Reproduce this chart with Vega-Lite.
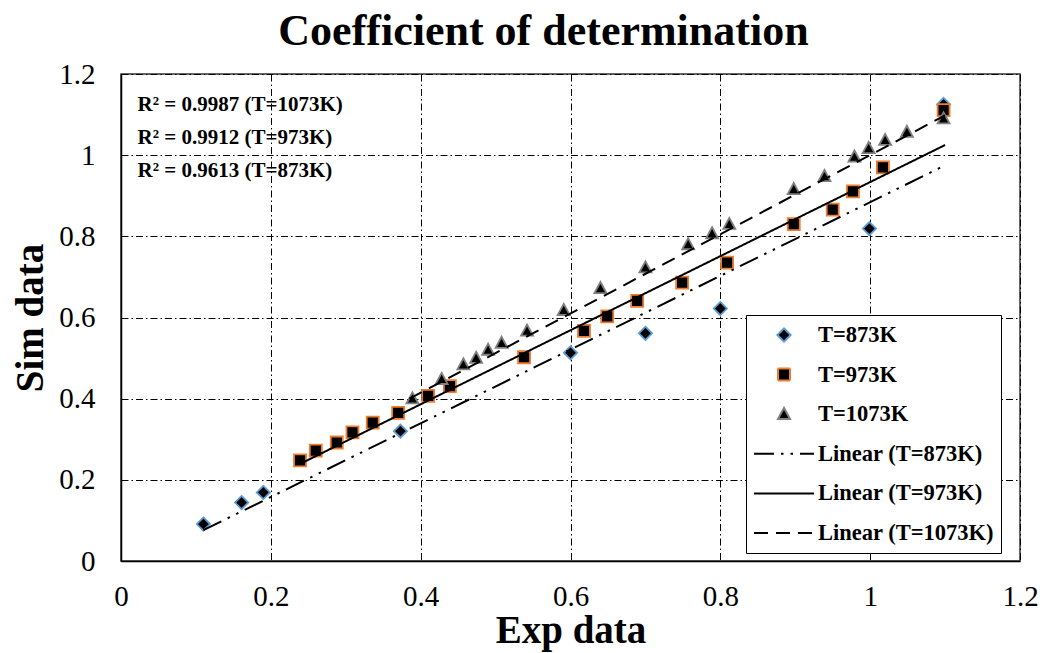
{
  "$schema": "https://vega.github.io/schema/vega-lite/v6.json",
  "width": 899,
  "height": 487,
  "autosize": "none",
  "padding": {"left": 121, "top": 74, "right": 26, "bottom": 92},
  "background": "white",
  "config": {
    "font": "Liberation Serif",
    "view": {"stroke": "#333333", "strokeWidth": 1.5},
    "legend": {
      "title": null,
      "orient": "none",
      "legendX": 625,
      "legendY": 241,
      "padding": 7,
      "strokeColor": "black",
      "fillColor": "white",
      "symbolSize": 3600,
      "symbolStrokeWidth": 2,
      "symbolFillColor": "black",
      "symbolOpacity": 1,
      "clipHeight": 26,
      "rowPadding": 13.6,
      "labelOffset": 3,
      "labelFont": "Liberation Serif",
      "labelFontSize": 22.5,
      "labelFontWeight": "bold",
      "labelColor": "black",
      "labelLimit": 300
    }
  },
  "title": {
    "text": "Coefficient of determination",
    "font": "Liberation Serif",
    "fontSize": 44,
    "fontWeight": "bold",
    "color": "black",
    "anchor": "middle",
    "frame": "group",
    "dx": -27,
    "offset": -29,
    "baseline": "alphabetic"
  },
  "datasets": {
    "points": [
      {"series": "T=873K", "x": 0.110, "y": 0.091},
      {"series": "T=873K", "x": 0.161, "y": 0.144},
      {"series": "T=873K", "x": 0.190, "y": 0.169},
      {"series": "T=873K", "x": 0.373, "y": 0.320},
      {"series": "T=873K", "x": 0.600, "y": 0.513},
      {"series": "T=873K", "x": 0.700, "y": 0.561},
      {"series": "T=873K", "x": 0.800, "y": 0.622},
      {"series": "T=873K", "x": 0.999, "y": 0.819},
      {"series": "T=873K", "x": 1.098, "y": 1.125},
      {"series": "T=973K", "x": 0.239, "y": 0.248},
      {"series": "T=973K", "x": 0.260, "y": 0.272},
      {"series": "T=973K", "x": 0.288, "y": 0.292},
      {"series": "T=973K", "x": 0.309, "y": 0.317},
      {"series": "T=973K", "x": 0.336, "y": 0.341},
      {"series": "T=973K", "x": 0.370, "y": 0.365},
      {"series": "T=973K", "x": 0.410, "y": 0.407},
      {"series": "T=973K", "x": 0.439, "y": 0.431},
      {"series": "T=973K", "x": 0.538, "y": 0.502},
      {"series": "T=973K", "x": 0.618, "y": 0.567},
      {"series": "T=973K", "x": 0.649, "y": 0.603},
      {"series": "T=973K", "x": 0.689, "y": 0.641},
      {"series": "T=973K", "x": 0.749, "y": 0.686},
      {"series": "T=973K", "x": 0.809, "y": 0.735},
      {"series": "T=973K", "x": 0.898, "y": 0.830},
      {"series": "T=973K", "x": 0.950, "y": 0.866},
      {"series": "T=973K", "x": 0.977, "y": 0.911},
      {"series": "T=973K", "x": 1.017, "y": 0.970},
      {"series": "T=973K", "x": 1.098, "y": 1.111},
      {"series": "T=1073K", "x": 0.389, "y": 0.400},
      {"series": "T=1073K", "x": 0.428, "y": 0.448},
      {"series": "T=1073K", "x": 0.457, "y": 0.484},
      {"series": "T=1073K", "x": 0.474, "y": 0.500},
      {"series": "T=1073K", "x": 0.490, "y": 0.520},
      {"series": "T=1073K", "x": 0.508, "y": 0.537},
      {"series": "T=1073K", "x": 0.542, "y": 0.567},
      {"series": "T=1073K", "x": 0.591, "y": 0.618},
      {"series": "T=1073K", "x": 0.640, "y": 0.672},
      {"series": "T=1073K", "x": 0.700, "y": 0.723},
      {"series": "T=1073K", "x": 0.757, "y": 0.780},
      {"series": "T=1073K", "x": 0.789, "y": 0.807},
      {"series": "T=1073K", "x": 0.812, "y": 0.830},
      {"series": "T=1073K", "x": 0.898, "y": 0.916},
      {"series": "T=1073K", "x": 0.939, "y": 0.948},
      {"series": "T=1073K", "x": 0.979, "y": 0.996},
      {"series": "T=1073K", "x": 0.998, "y": 1.017},
      {"series": "T=1073K", "x": 1.020, "y": 1.037},
      {"series": "T=1073K", "x": 1.049, "y": 1.057},
      {"series": "T=1073K", "x": 1.098, "y": 1.090}
    ],
    "lines": [
      {"series": "Linear (T=873K)", "x": 0.110, "y": 0.076},
      {"series": "Linear (T=873K)", "x": 1.100, "y": 0.975},
      {"series": "Linear (T=973K)", "x": 0.241, "y": 0.241},
      {"series": "Linear (T=973K)", "x": 1.100, "y": 1.025},
      {"series": "Linear (T=1073K)", "x": 0.385, "y": 0.400},
      {"series": "Linear (T=1073K)", "x": 1.100, "y": 1.098}
    ],
    "notes": [
      {"label": ["R² = 0.9987 (T=1073K)", "R² = 0.9912 (T=973K)", "R² = 0.9613 (T=873K)"]}
    ]
  },
  "layer": [
    {
      "data": {"name": "points"},
      "mark": {"type": "point", "filled": true, "fill": "black", "opacity": 1, "size": 3600, "strokeWidth": 1.8},
      "encoding": {
        "x": {
          "field": "x",
          "type": "quantitative",
          "scale": {"domain": [0, 1.2], "nice": false, "zero": false},
          "axis": {
            "title": "Exp data",
            "values": [0, 0.2, 0.4, 0.6, 0.8, 1, 1.2],
            "format": "~g",
            "labelFont": "Liberation Serif",
            "labelFontSize": 29,
            "labelColor": "black",
            "labelBaseline": "alphabetic",
            "labelPadding": 44,
            "labelFlush": false,
            "labelOverlap": false,
            "ticks": false,
            "tickSize": 0,
            "domainColor": "black",
            "domainWidth": 1.5,
            "grid": true,
            "gridColor": "black",
            "gridDash": [7, 3, 1.5, 3],
            "gridWidth": 1,
            "gridOpacity": 1,
            "titleFont": "Liberation Serif",
            "titleFontSize": 39,
            "titleFontWeight": "bold",
            "titleColor": "black",
            "titleBaseline": "alphabetic",
            "titleY": 81
          }
        },
        "y": {
          "field": "y",
          "type": "quantitative",
          "scale": {"domain": [0, 1.2], "nice": false, "zero": false},
          "axis": {
            "title": "Sim data",
            "values": [0, 0.2, 0.4, 0.6, 0.8, 1, 1.2],
            "format": "~g",
            "labelFont": "Liberation Serif",
            "labelFontSize": 29,
            "labelColor": "black",
            "labelPadding": 26,
            "labelFlush": false,
            "labelOverlap": false,
            "ticks": false,
            "tickSize": 0,
            "domainColor": "black",
            "domainWidth": 1.5,
            "grid": true,
            "gridColor": "black",
            "gridDash": [7, 3, 1.5, 3],
            "gridWidth": 1,
            "gridOpacity": 1,
            "titleFont": "Liberation Serif",
            "titleFontSize": 39,
            "titleFontWeight": "bold",
            "titleColor": "black",
            "titleBaseline": "alphabetic",
            "titleAlign": "center",
            "titleX": -79,
            "titleY": 243.5
          }
        },
        "shape": {
          "field": "series",
          "type": "nominal",
          "scale": {
            "domain": ["T=873K", "T=973K", "T=1073K", "Linear (T=873K)", "Linear (T=973K)", "Linear (T=1073K)"],
            "range": ["M0,-0.22L0.22,0L0,0.22L-0.22,0Z", "M-0.2,-0.2H0.2V0.2H-0.2Z", "M0,-0.21L0.2,0.16L-0.2,0.16Z", "M-1,0H1", "M-1,0H1", "M-1,0H1"]
          }
        },
        "stroke": {
          "field": "series",
          "type": "nominal",
          "scale": {
            "domain": ["T=873K", "T=973K", "T=1073K", "Linear (T=873K)", "Linear (T=973K)", "Linear (T=1073K)"],
            "range": ["#5b9bd5", "#ed7d31", "#7f7f7f", "black", "black", "black"]
          }
        }
      }
    },
    {
      "data": {"name": "lines"},
      "mark": {"type": "line", "strokeWidth": 2},
      "encoding": {
        "x": {"field": "x", "type": "quantitative"},
        "y": {"field": "y", "type": "quantitative"},
        "stroke": {
          "field": "series",
          "type": "nominal",
          "scale": {
            "domain": ["T=873K", "T=973K", "T=1073K", "Linear (T=873K)", "Linear (T=973K)", "Linear (T=1073K)"],
            "range": ["#5b9bd5", "#ed7d31", "#7f7f7f", "black", "black", "black"]
          }
        },
        "strokeDash": {
          "field": "series",
          "type": "nominal",
          "scale": {
            "domain": ["T=873K", "T=973K", "T=1073K", "Linear (T=873K)", "Linear (T=973K)", "Linear (T=1073K)"],
            "range": [[1, 0], [1, 0], [1, 0], [20, 7, 2.5, 7, 2.5, 7], [1, 0], [14, 8]]
          }
        }
      }
    },
    {
      "data": {"name": "notes"},
      "mark": {
        "type": "text",
        "font": "Liberation Serif",
        "fontSize": 21,
        "fontWeight": "bold",
        "color": "black",
        "align": "left",
        "baseline": "middle",
        "lineHeight": 33
      },
      "encoding": {
        "text": {"field": "label"},
        "x": {"datum": 0.022, "type": "quantitative"},
        "y": {"datum": 1.123, "type": "quantitative"}
      }
    }
  ]
}
